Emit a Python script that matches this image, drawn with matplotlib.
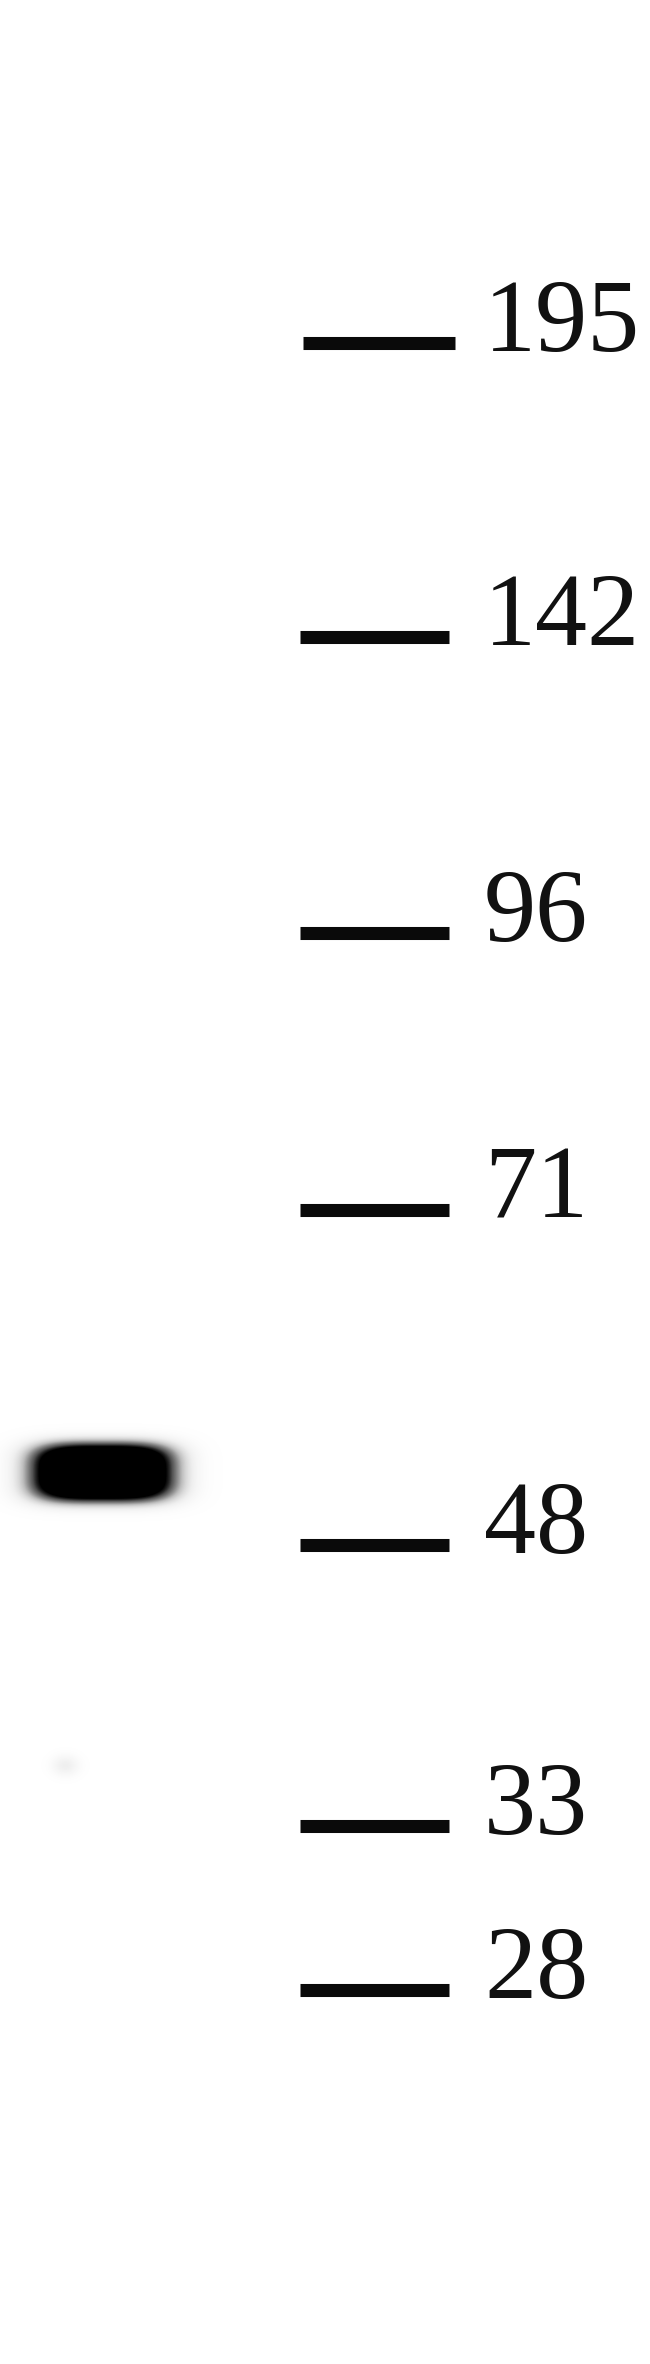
import numpy as np
import matplotlib
matplotlib.use("Agg")
import matplotlib.pyplot as plt

# ---- data read from the blot ----
marker_labels = ["195", "142", "96", "71", "48", "33", "28"]
marker_y = [343, 637, 933, 1210, 1545, 1826, 1990]       # ladder line positions (px from top)
marker_x0 = [303, 300, 300, 300, 300, 300, 300]
marker_x1 = [455, 449, 449, 449, 449, 449, 449]

band_center = (102, 1472)     # lane band (x, y)
band_half = (71, 29)          # half width, half height
band_peak = 1.4

spot_center = (65, 1765)
spot_radius = 10
spot_peak = 0.13

W, H = 650, 2364
fig = plt.figure(figsize=(W / 100, H / 100), dpi=100)
ax = fig.add_axes([0, 0, 1, 1])
ax.set_xlim(0, W)
ax.set_ylim(H, 0)
ax.axis("off")
fig.patch.set_facecolor("white")

# band image
gx = np.arange(0, 260)
gy = np.arange(1380, 1570)
X, Y = np.meshgrid(gx, gy)
dx = np.abs(X - band_center[0]) / band_half[0]
dy = np.abs(Y - band_center[1]) / band_half[1]
rho = (dx ** 3.5 + dy ** 3.5) ** (1 / 3.5)
inten = band_peak * 0.5 * (1 - np.tanh((rho - 1) * 4.2))
ax.imshow(np.clip(inten, 0, 1), cmap="Greys", vmin=0, vmax=1,
          extent=(gx[0], gx[-1] + 1, gy[-1] + 1, gy[0]), interpolation="bilinear",
          zorder=1, aspect="auto")

# faint spot
sx = np.arange(30, 110)
sy = np.arange(1730, 1800)
SX, SY = np.meshgrid(sx, sy)
sp = spot_peak * np.exp(-(((SX - spot_center[0]) / (spot_radius * 1.3)) ** 2 +
                          ((SY - spot_center[1]) / spot_radius) ** 2))
ax.imshow(sp, cmap="Greys", vmin=0, vmax=1,
          extent=(sx[0], sx[-1] + 1, sy[-1] + 1, sy[0]), interpolation="bilinear",
          zorder=1, aspect="auto")

# ladder
for lab, y, x0, x1 in zip(marker_labels, marker_y, marker_x0, marker_x1):
    ax.plot([x0, x1], [y, y], color="#0a0a0a", lw=9.4, solid_capstyle="butt", zorder=2)
    ax.text(484, y + 8, lab, fontsize=75, family="Liberation Serif",
            ha="left", va="baseline", color="#111111", zorder=3)

ax.set_xlim(0, W)
ax.set_ylim(H, 0)
fig.savefig("out.png", dpi=100, facecolor="white")
